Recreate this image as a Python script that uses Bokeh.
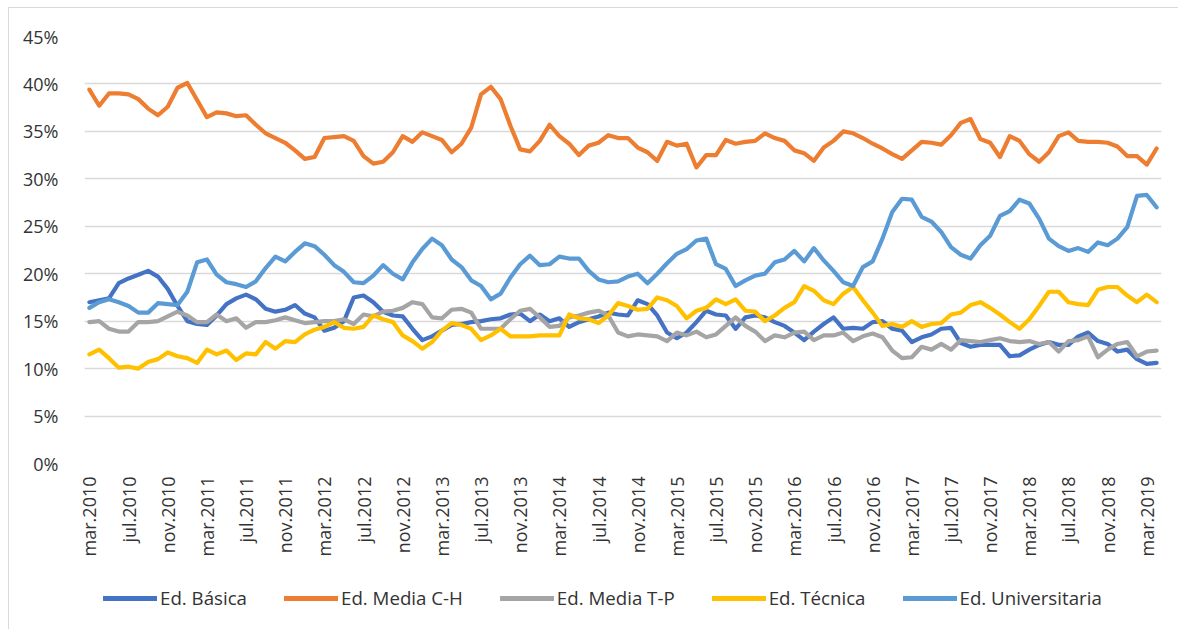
from bokeh.plotting import figure
from bokeh.layouts import column
from bokeh.models import (ColumnDataSource, FixedTicker, PrintfTickFormatter, Range1d,
                          Legend, LegendItem)
from bokeh.embed import file_html
from bokeh.resources import INLINE

# ---- data (percent), monthly from mar.2010 to apr.2019 ----
basica = [17.0, 17.2, 17.4, 19.0, 19.5, 19.9, 20.3, 19.7, 18.4, 16.6,
          15.0, 14.7, 14.6, 15.6, 16.8, 17.4, 17.8, 17.3, 16.3, 16.0,
          16.2, 16.7, 15.8, 15.4, 14.0, 14.3, 15.0, 17.5, 17.7, 17.0,
          16.0, 15.6, 15.5, 14.2, 13.0, 13.4, 14.0, 14.6, 14.7, 14.9,
          15.0, 15.2, 15.3, 15.7, 15.8, 15.0, 15.7, 15.0, 15.3, 14.4,
          14.9, 15.2, 15.5, 15.9, 15.7, 15.6, 17.2, 16.8, 15.6, 13.8,
          13.2, 13.8, 14.9, 16.1, 15.7, 15.6, 14.2, 15.4, 15.6, 15.4,
          14.9, 14.5, 13.8, 13.0, 13.9, 14.7, 15.4, 14.2, 14.3, 14.2,
          14.9, 15.0, 14.2, 14.0, 12.8, 13.3, 13.6, 14.2, 14.3, 12.7,
          12.3, 12.5, 12.5, 12.5, 11.3, 11.4, 12.0, 12.5, 12.8, 12.5,
          12.5, 13.4, 13.8, 12.9, 12.6, 11.8, 12.0, 11.0, 10.5, 10.6]

media_ch = [39.4, 37.7, 39.0, 39.0, 38.9, 38.4, 37.4, 36.7, 37.6, 39.6,
            40.1, 38.3, 36.5, 37.0, 36.9, 36.6, 36.7, 35.7, 34.8, 34.3,
            33.8, 33.0, 32.1, 32.3, 34.3, 34.4, 34.5, 34.0, 32.4, 31.6,
            31.8, 32.8, 34.5, 33.9, 34.9, 34.5, 34.1, 32.8, 33.7, 35.4,
            38.9, 39.7, 38.4, 35.6, 33.1, 32.9, 34.0, 35.7, 34.5, 33.7,
            32.5, 33.5, 33.8, 34.6, 34.3, 34.3, 33.3, 32.8, 31.9, 33.9,
            33.5, 33.7, 31.2, 32.5, 32.5, 34.1, 33.7, 33.9, 34.0, 34.8,
            34.3, 34.0, 33.0, 32.7, 31.9, 33.3, 34.0, 35.0, 34.8, 34.3,
            33.7, 33.2, 32.6, 32.1, 33.0, 33.9, 33.8, 33.6, 34.6, 35.9,
            36.3, 34.2, 33.8, 32.3, 34.5, 34.0, 32.6, 31.8, 32.8, 34.5,
            34.9, 34.0, 33.9, 33.9, 33.8, 33.4, 32.4, 32.4, 31.5, 33.2]

media_tp = [14.9, 15.0, 14.2, 13.9, 13.9, 14.9, 14.9, 15.0, 15.5, 16.0,
            15.6, 14.9, 14.9, 15.7, 15.0, 15.3, 14.3, 14.9, 14.9, 15.1,
            15.4, 15.1, 14.8, 14.9, 15.0, 15.0, 15.2, 14.7, 15.7, 15.5,
            16.0, 16.1, 16.4, 17.0, 16.8, 15.4, 15.3, 16.2, 16.3, 15.9,
            14.2, 14.2, 14.2, 15.2, 16.1, 16.3, 15.4, 14.4, 14.5, 15.4,
            15.6, 15.9, 16.1, 15.6, 13.8, 13.4, 13.6, 13.5, 13.4, 12.9,
            13.8, 13.5, 13.9, 13.3, 13.6, 14.5, 15.4, 14.5, 13.9, 12.9,
            13.5, 13.3, 13.8, 13.9, 13.0, 13.5, 13.5, 13.8, 12.9, 13.4,
            13.7, 13.3, 11.9, 11.1, 11.2, 12.3, 12.0, 12.6, 12.0, 13.0,
            12.9, 12.8, 13.0, 13.2, 12.9, 12.8, 12.9, 12.6, 12.8, 11.8,
            12.9, 13.0, 13.4, 11.2, 12.0, 12.6, 12.8, 11.3, 11.8, 11.9]

tecnica = [11.5, 12.0, 11.1, 10.1, 10.2, 10.0, 10.7, 11.0, 11.7, 11.3,
           11.1, 10.6, 12.0, 11.5, 11.9, 10.9, 11.6, 11.5, 12.8, 12.1,
           12.9, 12.8, 13.6, 14.1, 14.4, 14.9, 14.3, 14.2, 14.4, 15.6,
           15.2, 14.9, 13.5, 12.9, 12.1, 12.8, 14.0, 14.8, 14.6, 14.2,
           13.0, 13.5, 14.2, 13.4, 13.4, 13.4, 13.5, 13.5, 13.5, 15.7,
           15.3, 15.2, 14.8, 15.6, 16.9, 16.6, 16.2, 16.3, 17.5, 17.2,
           16.6, 15.3, 16.1, 16.4, 17.3, 16.8, 17.3, 16.1, 16.0, 15.0,
           15.6, 16.4, 17.0, 18.7, 18.2, 17.2, 16.8, 17.9, 18.6, 17.2,
           15.9, 14.5, 14.7, 14.4, 15.0, 14.4, 14.7, 14.8, 15.7, 15.9,
           16.7, 17.0, 16.4, 15.7, 14.9, 14.2, 15.2, 16.6, 18.1, 18.1,
           17.0, 16.8, 16.7, 18.3, 18.6, 18.6, 17.7, 17.0, 17.8, 17.0]

universitaria = [16.4, 17.0, 17.3, 17.0, 16.6, 15.9, 15.9, 16.9, 16.8, 16.7,
                 18.1, 21.2, 21.5, 19.9, 19.1, 18.9, 18.6, 19.2, 20.6, 21.8,
                 21.3, 22.3, 23.2, 22.9, 22.0, 20.9, 20.2, 19.1, 19.0, 19.8,
                 20.9, 20.0, 19.4, 21.2, 22.6, 23.7, 23.0, 21.5, 20.7, 19.3,
                 18.7, 17.3, 17.9, 19.6, 21.0, 21.9, 20.9, 21.0, 21.8, 21.6,
                 21.6, 20.3, 19.4, 19.1, 19.2, 19.7, 20.0, 19.0, 20.0, 21.1,
                 22.1, 22.6, 23.5, 23.7, 21.0, 20.5, 18.7, 19.3, 19.8, 20.0,
                 21.2, 21.5, 22.4, 21.3, 22.7, 21.4, 20.3, 19.1, 18.7, 20.7,
                 21.3, 23.7, 26.5, 27.9, 27.8, 26.0, 25.5, 24.4, 22.8, 22.0,
                 21.6, 23.0, 24.0, 26.1, 26.6, 27.8, 27.4, 25.8, 23.7, 22.9,
                 22.4, 22.7, 22.3, 23.3, 23.0, 23.7, 24.9, 28.2, 28.3, 27.0]

tick_labels = ["mar.2010", "jul.2010", "nov.2010",
               "mar.2011", "jul.2011", "nov.2011",
               "mar.2012", "jul.2012", "nov.2012",
               "mar.2013", "jul.2013", "nov.2013",
               "mar.2014", "jul.2014", "nov.2014",
               "mar.2015", "jul.2015", "nov.2015",
               "mar.2016", "jul.2016", "nov.2016",
               "mar.2017", "jul.2017", "nov.2017",
               "mar.2018", "jul.2018", "nov.2018",
               "mar.2019"]

series_names = ["Ed. Básica", "Ed. Media C-H", "Ed. Media T-P", "Ed. Técnica", "Ed. Universitaria"]
series_colors = ["#4472C4", "#ED7D31", "#A5A5A5", "#FFC000", "#5B9BD5"]
series_values = [basica, media_ch, media_tp, tecnica, universitaria]

n = len(basica)
x = list(range(n))
tick_step = 4
tick_pos = [i * tick_step for i in range(len(tick_labels))]

FONT = "Open Sans"
TXT = "#333333"
LW = 4.2

# ---------------- main chart ----------------
p = figure(width=1169, height=567, output_backend="svg", toolbar_location=None,
           x_range=Range1d(-0.5, n - 0.5), y_range=Range1d(0, 45),
           min_border_left=75, min_border_right=17, min_border_top=28, min_border_bottom=112)
p.outline_line_color = None
p.background_fill_color = "white"
p.border_fill_color = "white"

p.xgrid.visible = False
p.ygrid.grid_line_color = "#d9d9d9"
p.ygrid.grid_line_width = 1.3

p.yaxis.ticker = FixedTicker(ticks=list(range(0, 46, 5)))
p.yaxis.formatter = PrintfTickFormatter(format="%d%%")
p.yaxis.axis_line_color = None
p.yaxis.major_tick_line_color = None
p.yaxis.minor_tick_line_color = None
p.yaxis.major_label_standoff = 20
p.yaxis.major_label_text_font = FONT
p.yaxis.major_label_text_font_size = "18px"
p.yaxis.major_label_text_color = TXT

p.xaxis.ticker = FixedTicker(ticks=tick_pos)
p.xaxis.major_label_overrides = {t: lab for t, lab in zip(tick_pos, tick_labels)}
p.xaxis.major_label_orientation = 3.14159265 / 2
p.xaxis.axis_line_color = None
p.xaxis.major_tick_line_color = None
p.xaxis.minor_tick_line_color = None
p.xaxis.major_label_standoff = 7
p.xaxis.major_label_text_font = FONT
p.xaxis.major_label_text_font_size = "18px"
p.xaxis.major_label_text_color = TXT

for name, col, vals in zip(series_names, series_colors, series_values):
    src = ColumnDataSource(dict(x=x, y=vals))
    p.line("x", "y", source=src, line_color=col, line_width=LW,
           line_join="round", line_cap="round")

# ---------------- legend strip ----------------
# The same series are drawn here, but this strip's y range lies above all values,
# so only the legend of this strip is visible.
lg = figure(width=1169, height=54, output_backend="svg", toolbar_location=None,
            x_axis_type=None, y_axis_type=None,
            x_range=Range1d(-0.5, n - 0.5), y_range=Range1d(100, 101),
            min_border_left=0, min_border_right=0, min_border_top=0, min_border_bottom=0)
lg.outline_line_color = None
lg.xgrid.visible = False
lg.ygrid.visible = False
lg.background_fill_color = "white"
lg.border_fill_color = "white"

items = []
for name, col, vals in zip(series_names, series_colors, series_values):
    src = ColumnDataSource(dict(x=x, y=vals))
    r = lg.line("x", "y", source=src, line_color=col, line_width=4.8, line_cap="round")
    items.append(LegendItem(label=name, renderers=[r]))

legend = Legend(items=items, orientation="horizontal", location=(19, 19),
                label_text_font=FONT, label_text_font_size="18.7px", label_text_color=TXT,
                glyph_width=54, glyph_height=22, label_standoff=3, spacing=37,
                padding=0, margin=0, border_line_color=None, background_fill_alpha=0)
lg.add_layout(legend)

layout = column(p, lg, spacing=0,
                styles={"margin-left": "8px", "margin-top": "7px",
                        "border-top": "1px solid #d9d9d9", "border-left": "1px solid #d9d9d9"})

open("out.html", "w").write(file_html(layout, INLINE))
